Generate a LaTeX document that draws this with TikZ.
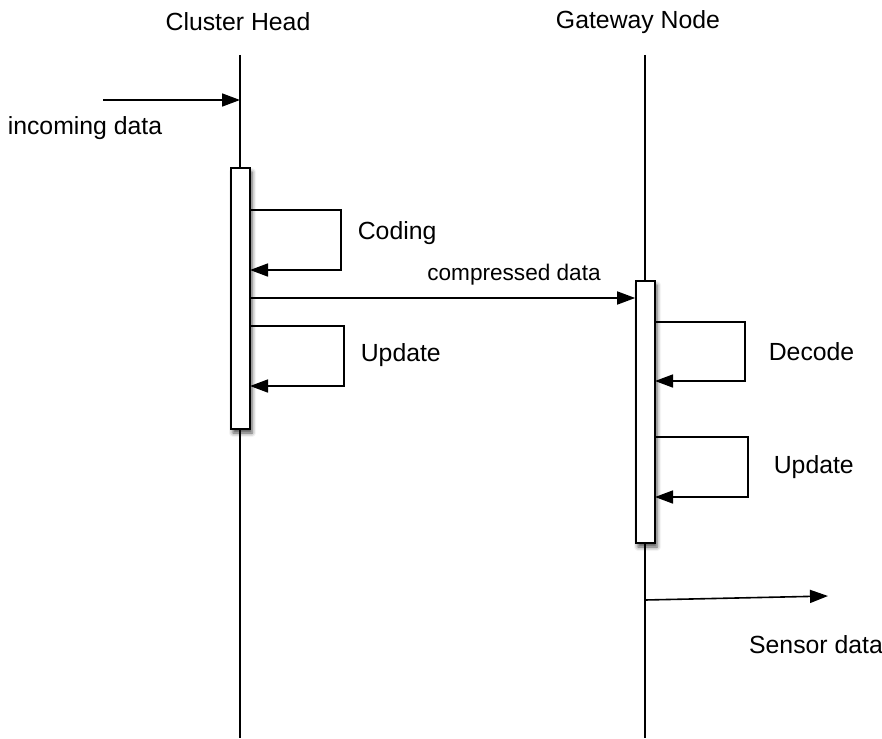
\documentclass[tikz,border=0pt]{standalone}
\usepackage{fontspec}
\setmainfont{Liberation Sans}
\usetikzlibrary{arrows.meta,shadows.blur}
\begin{document}
\begin{tikzpicture}[x=1pt,y=-1pt,line width=1.6pt,
  lbl/.style={font=\fontsize{24.8}{29}\selectfont,inner sep=0pt},
  actbox/.style={draw,fill=white,minimum width=19pt,inner sep=0pt,
    blur shadow={shadow xshift=2pt,shadow yshift=-4pt,shadow blur radius=4pt,shadow opacity=70}},
  msg/.style={-{Triangle[length=18pt,width=13pt]}}]
\useasboundingbox (0,0) rectangle (882,738);
% titles
\node[lbl] (tch) at (238,22) {Cluster Head};
\node[lbl] (tgw) at (638,22) {Gateway Node};
% lifelines
\coordinate (ch0) at (240,55);
\coordinate (ch1) at (240,738);
\coordinate (gw0) at (645,55);
\coordinate (gw1) at (645,738);
\draw (ch0) -- (ch1);
\draw (gw0) -- (gw1);
% activation boxes
\node[actbox,minimum height=261pt] (ach) at (240.5,298.5) {};
\node[actbox,minimum height=262pt] (agw) at (645.5,412) {};
% incoming data
\coordinate (in0) at (103,100);
\draw[msg] (in0) -- (in0 -| ch0);
\node[lbl] (lin) at (85,128) {incoming data};
% coding loop
\coordinate (cod1) at (250,210);
\coordinate (cod2) at (341,270);
\draw[msg] (cod1) -| (cod2) -- (cod1 |- cod2);
\node[lbl,anchor=west] (lcod) at (357,233) {Coding};
% compressed data
\coordinate (cm0) at (250,298);
\draw[msg] (cm0) -- (cm0 -| agw.west);
\node[lbl,font=\fontsize{22.6}{27}\selectfont] (lcm) at (514,275) {compressed data};
% update loop CH
\coordinate (up1) at (250,326);
\coordinate (up2) at (344,386);
\draw[msg] (up1) -| (up2) -- (up1 |- up2);
\node[lbl,anchor=west] (lup1) at (360,355) {Update};
% decode loop
\coordinate (dc1) at (655,322);
\coordinate (dc2) at (745,381);
\draw[msg] (dc1) -| (dc2) -- (dc1 |- dc2);
\node[lbl,anchor=west] (ldc) at (768,352) {Decode};
% update loop GW
\coordinate (ug1) at (655,437);
\coordinate (ug2) at (748,497);
\draw[msg] (ug1) -| (ug2) -- (ug1 |- ug2);
\node[lbl,anchor=west] (lup2) at (773,467) {Update};
% sensor data
\coordinate (sd0) at (645,600);
\coordinate (sd1) at (828,596);
\draw[msg] (sd0) -- (sd1);
\node[lbl] (lsd) at (816,645) {Sensor data};
\end{tikzpicture}
\end{document}
